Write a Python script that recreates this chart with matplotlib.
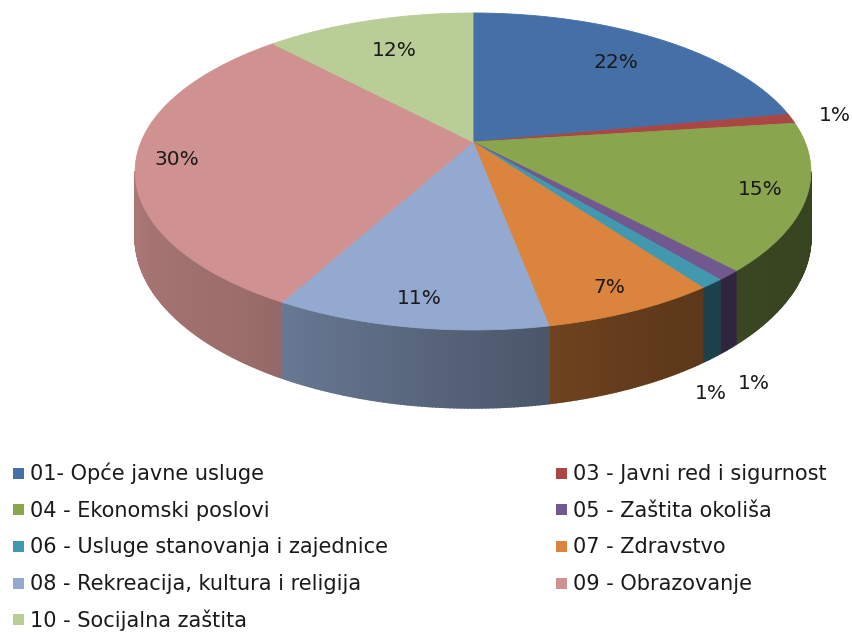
import numpy as np
import matplotlib
matplotlib.use("Agg")
import matplotlib.pyplot as plt
from matplotlib.patches import Polygon, Rectangle
from matplotlib.colors import to_rgb

# ---------------- data ----------------
categories = ["01- Opće javne usluge", "03 - Javni red i sigurnost", "04 - Ekonomski poslovi",
              "05 - Zaštita okoliša", "06 - Usluge stanovanja i zajednice", "07 - Zdravstvo",
              "08 - Rekreacija, kultura i religija", "09 - Obrazovanje", "10 - Socijalna zaštita"]
values = [22, 1, 15, 1, 1, 7, 11, 30, 12]
colors = ["#4470a7", "#aa4643", "#89a54e", "#71588f", "#4198af", "#db843d",
          "#93a9cf", "#d09290", "#b9cd96"]

# ---------------- layout / style ----------------
W, H = 853, 632
CX, CY = 473, 142          # projected pie centre
A, B, K, D = 332, 153, 0.186, 63.5   # radii, perspective, depth
# label placement: (radius factor, level 0=top/-1=bottom, dx, dy)
label_place = [(0.75, 0, 0, 0), (1.14, 0, 0, 0), (0.87, 0, 0, 0),
               (1.12, -1, -11, 14), (1.12, -1, -35, 13), (0.88, 0, 0, 0),
               (0.87, 0, 0, 0), (0.88, 0, 0, 0), (0.72, 0, 0, 0)]

fig = plt.figure(figsize=(W / 100, H / 100), dpi=100)
ax = fig.add_axes([0, 0, 1, 1])
ax.set_xlim(0, W)
ax.set_ylim(H, 0)
ax.axis("off")


def proj(u, v, z=0.0):
    w = 1 + K * v
    return CX + A * u / w, CY - (B * v + D * z) / w


vals = np.array(values, dtype=float)
frac = np.concatenate([[0], np.cumsum(vals) / vals.sum()])
ang = 90 - 360 * frac   # math angles in degrees (clockwise from top)


def shade(tdeg):
    t = tdeg % 360
    return np.interp(t, [180, 236, 282, 300, 360], [0.85, 0.74, 0.50, 0.43, 0.40])


# walls
quads = []
for i in range(len(values)):
    a0, a1 = ang[i], ang[i + 1]
    n = max(2, int(abs(a1 - a0) / 0.5) + 1)
    ts = np.linspace(a0, a1, n)
    base = np.array(to_rgb(colors[i]))
    for t1, t2 in zip(ts[:-1], ts[1:]):
        tm = np.radians((t1 + t2) / 2)
        if np.sin(tm) >= -K:
            continue
        r1, r2 = np.radians(t1), np.radians(t2)
        pts = [proj(np.cos(r1), np.sin(r1), 0), proj(np.cos(r2), np.sin(r2), 0),
               proj(np.cos(r2), np.sin(r2), -1), proj(np.cos(r1), np.sin(r1), -1)]
        c = np.clip(base * shade(np.degrees(tm)), 0, 1)
        quads.append((np.sin(tm), pts, c))
quads.sort(key=lambda q: -q[0])
for _, pts, c in quads:
    ax.add_patch(Polygon(pts, closed=True, facecolor=c, edgecolor=c, linewidth=1.1,
                         joinstyle="miter"))

# top faces
for i in range(len(values)):
    a0, a1 = ang[i], ang[i + 1]
    n = max(3, int(abs(a1 - a0) / 0.5) + 2)
    ts = np.radians(np.linspace(a0, a1, n))
    pts = [proj(0, 0)] + [proj(np.cos(t), np.sin(t)) for t in ts]
    ax.add_patch(Polygon(pts, closed=True, facecolor=colors[i], edgecolor=colors[i], linewidth=0.6))

# percentage labels
for i, v in enumerate(values):
    r, lev, dx, dy = label_place[i]
    tm = np.radians((ang[i] + ang[i + 1]) / 2)
    x, y = proj(r * np.cos(tm), r * np.sin(tm), lev)
    ax.text(x + dx, y + dy, f"{v}%", ha="center", va="center", fontsize=14.5,
            color="#1a1a1a", family="DejaVu Sans")

# legend (row-major, two columns)
row0, drow = 473, 36.7
for i, (cat, col) in enumerate(zip(categories, colors)):
    r, c = divmod(i, 2)
    yc = row0 + r * drow
    mx = 13 if c == 0 else 556
    ax.add_patch(Rectangle((mx, yc - 5.5), 11, 11, facecolor=col, edgecolor="none"))
    ax.text(mx + 17, yc + 7, cat, ha="left", va="baseline", fontsize=15,
            color="#1a1a1a", family="DejaVu Sans")

fig.savefig("out.png", dpi=100)
